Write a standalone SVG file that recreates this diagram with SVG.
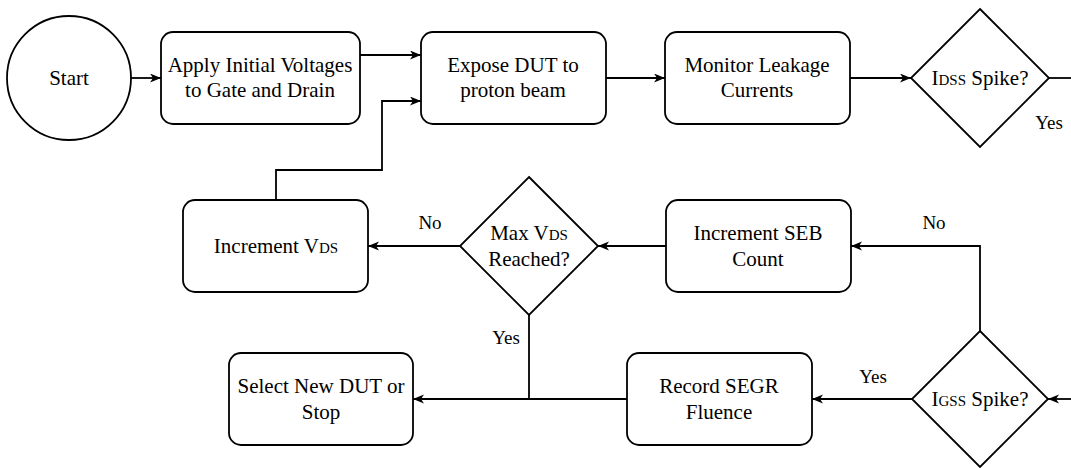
<svg xmlns="http://www.w3.org/2000/svg" width="1071" height="468" viewBox="0 0 1071 468">
  <style>
    .shape { fill: #ffffff; stroke: #000000; stroke-width: 1.8; }
    .edge { fill: none; stroke: #000000; stroke-width: 1.8; }
    .label { font-family: Times, "Times New Roman", Tinos, "Liberation Serif", "DejaVu Serif", "Noto Serif", serif; font-size: 21px; fill: #000000; text-anchor: middle; }
    .edge-label { font-family: Times, "Times New Roman", Tinos, "Liberation Serif", "DejaVu Serif", "Noto Serif", serif; font-size: 19px; fill: #000000; text-anchor: middle; }
    .sc { font-size: 15px; }
  </style>
  <defs>
    <marker id="arrow" markerUnits="userSpaceOnUse" markerWidth="12" markerHeight="10" refX="11" refY="4.5" orient="auto">
      <path d="M0,0 L11,4.5 L0,9 L3,4.5 Z" fill="#000000"/>
    </marker>
  </defs>

  <!-- connectors -->
  <g id="connectors">
    <path class="edge" d="M131,78 H161" marker-end="url(#arrow)"/>
    <path class="edge" d="M360,55 H421" marker-end="url(#arrow)"/>
    <path class="edge" d="M276,200 V170 H382 V101 H421" marker-end="url(#arrow)"/>
    <path class="edge" d="M606,78 H665" marker-end="url(#arrow)"/>
    <path class="edge" d="M850,78 H911" marker-end="url(#arrow)"/>
    <path class="edge" d="M1049,78 H1071"/>
    <path class="edge" d="M666,246 H598" marker-end="url(#arrow)"/>
    <path class="edge" d="M460,246 H368" marker-end="url(#arrow)"/>
    <path class="edge" d="M980,331 V246 H851" marker-end="url(#arrow)"/>
    <path class="edge" d="M912,399 H812" marker-end="url(#arrow)"/>
    <path class="edge" d="M627,399 H413" marker-end="url(#arrow)"/>
    <path class="edge" d="M529,315 V399"/>
    <path class="edge" d="M1071,399 H1048" marker-end="url(#arrow)"/>
    <text class="edge-label" x="1049" y="129">Yes</text>
    <text class="edge-label" x="430" y="229">No</text>
    <text class="edge-label" x="934" y="229">No</text>
    <text class="edge-label" x="506" y="344">Yes</text>
    <text class="edge-label" x="873" y="383">Yes</text>
  </g>

  <g id="start">
    <circle class="shape" cx="69" cy="78" r="62"/>
    <text class="label" x="69" y="85">Start</text>
  </g>

  <g id="apply-voltages">
    <rect class="shape" x="161" y="32" width="199" height="92" rx="12"/>
    <text class="label" x="260" y="72">Apply Initial Voltages</text>
    <text class="label" x="260" y="97">to Gate and Drain</text>
  </g>

  <g id="expose-dut">
    <rect class="shape" x="421" y="32" width="185" height="92" rx="12"/>
    <text class="label" x="513" y="72">Expose DUT to</text>
    <text class="label" x="513" y="97">proton beam</text>
  </g>

  <g id="monitor-leakage">
    <rect class="shape" x="665" y="32" width="185" height="92" rx="12"/>
    <text class="label" x="757" y="72">Monitor Leakage</text>
    <text class="label" x="757" y="97">Currents</text>
  </g>

  <g id="idss-spike">
    <polygon class="shape" points="980,9 1049,78 980,147 911,78"/>
    <text class="label" x="980" y="85">I<tspan class="sc">DSS</tspan> Spike?</text>
  </g>

  <g id="increment-vds">
    <rect class="shape" x="183" y="200" width="185" height="92" rx="12"/>
    <text class="label" x="276" y="253">Increment V<tspan class="sc">DS</tspan></text>
  </g>

  <g id="max-vds">
    <polygon class="shape" points="529,177 598,246 529,315 460,246"/>
    <text class="label" x="529" y="240">Max V<tspan class="sc">DS</tspan></text>
    <text class="label" x="529" y="266">Reached?</text>
  </g>

  <g id="increment-seb">
    <rect class="shape" x="666" y="200" width="185" height="92" rx="12"/>
    <text class="label" x="758" y="240">Increment SEB</text>
    <text class="label" x="758" y="266">Count</text>
  </g>

  <g id="select-new-dut">
    <rect class="shape" x="229" y="353" width="184" height="92" rx="12"/>
    <text class="label" x="321" y="393">Select New DUT or</text>
    <text class="label" x="321" y="419">Stop</text>
  </g>

  <g id="record-segr">
    <rect class="shape" x="627" y="353" width="185" height="92" rx="12"/>
    <text class="label" x="719" y="393">Record SEGR</text>
    <text class="label" x="719" y="419">Fluence</text>
  </g>

  <g id="igss-spike">
    <polygon class="shape" points="980,331 1048,399 980,467 912,399"/>
    <text class="label" x="980" y="406">I<tspan class="sc">GSS</tspan> Spike?</text>
  </g>
</svg>
